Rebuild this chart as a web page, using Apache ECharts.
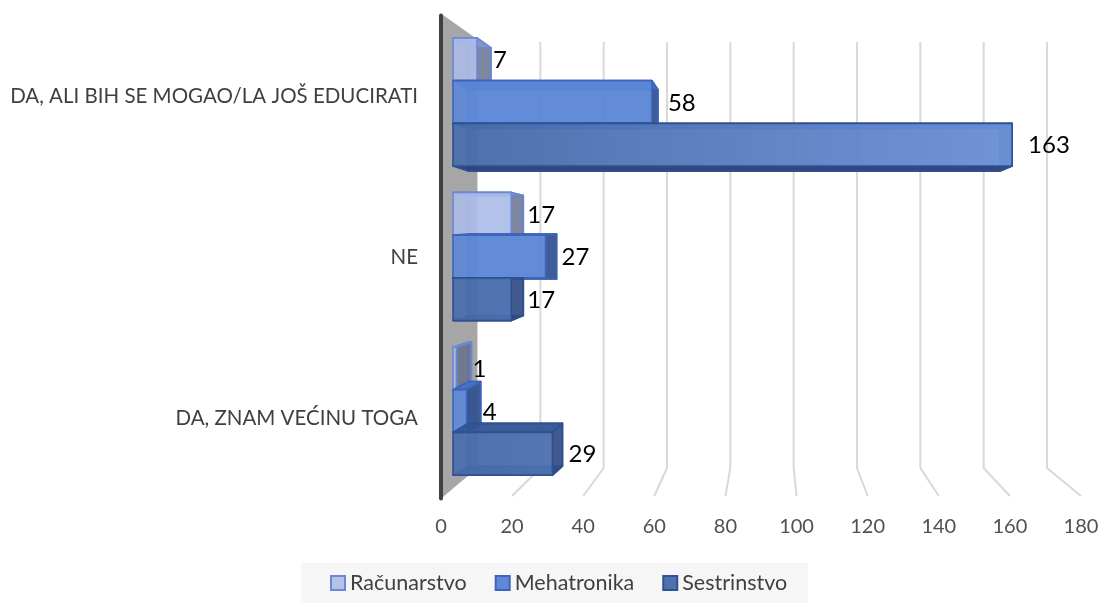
<!DOCTYPE html>
<html>
<head>
<meta charset="utf-8">
<style>html,body{margin:0;padding:0;background:#fff}#c{width:1102px;height:603px}</style>
<script src="https://cdn.jsdelivr.net/npm/echarts@6/dist/echarts.min.js"></script>
</head>
<body>
<div id="c"></div>
<script>
const categories = ['DA, ALI BIH SE MOGAO/LA JOŠ EDUCIRATI', 'NE', 'DA, ZNAM VEĆINU TOGA'];
const seriesNames = ['Računarstvo', 'Mehatronika', 'Sestrinstvo'];
const racunarstvo = [7, 17, 1];
const mehatronika = [58, 27, 4];
const sestrinstvo = [163, 17, 29];
const tickValues = [0, 20, 40, 60, 80, 100, 120, 140, 160, 180];

// Per-bar perspective of the fake 3D look: [right edge shift, top shift, bottom shift]
const depthRacunarstvo = [[14, 10, 0], [12, 3, 0], [15, -5, -8]];
const depthMehatronika = [[6, 9, 0], [11, -1, 1], [14, -8, -8]];
const depthSestrinstvo = [[-12, 5, 5], [12, 0, -5], [10, -9, -9]];
const LEFT_SHIFT = 15;
const FONT = 'Lato, "Open Sans", sans-serif';

const styles = [
  {front: 'rgba(172,188,232,0.88)', back: 'rgba(172,188,232,0.35)', side: 'rgba(100,110,140,0.8)', top: 'rgba(130,150,205,0.85)', bottom: 'rgba(130,150,205,0.85)', edge: '#6c88d4', swatch: '#b4c2e4'},
  {front: 'rgba(92,135,215,0.9)', back: 'rgba(70,110,190,0.5)', side: 'rgba(50,80,140,0.88)', top: 'rgba(68,110,195,0.92)', bottom: 'rgba(55,90,165,0.9)', edge: '#3d64b8', swatch: '#5f88d6'},
  {front: null, back: 'rgba(60,95,165,0.5)', side: 'rgba(50,75,130,0.85)', top: 'rgba(50,85,150,0.92)', bottom: 'rgba(40,65,120,0.95)', edge: '#2f5191', swatch: '#4f72ad'}
];

function frontFill(i) {
  if (styles[i].front) return styles[i].front;
  return new echarts.graphic.LinearGradient(453, 0, 1013, 0, [
    {offset: 0, color: 'rgba(72,108,170,0.92)'},
    {offset: 1, color: 'rgba(108,146,216,0.92)'}
  ], true);
}

function barSeries(name, values, depth, si) {
  const st = styles[si];
  return {
    type: 'custom', name: name, xAxisIndex: 1, yAxisIndex: 1, silent: true,
    itemStyle: {color: st.swatch, borderColor: st.edge, borderWidth: 2},
    encode: {x: 1, y: 0},
    data: values.map((v, i) => [i, v]),
    renderItem: function (params, api) {
      const cat = api.value(0), val = api.value(1);
      const band = api.size([0, 1])[1];
      const h = band * 0.2765;
      const zero = api.coord([0, cat]);
      const end = api.coord([val, cat]);
      const t = zero[1] - 1.5 * h + si * h, b = t + h;
      const l = zero[0], r = end[0];
      const d = depth[params.dataIndex];
      const bl = l + LEFT_SHIFT, br = r + d[0], bt = t + d[1], bb = b + d[2];
      const line = {stroke: st.edge, lineWidth: 1.6, lineJoin: 'round'};
      const poly = (pts, fill) => ({type: 'polygon', shape: {points: pts}, style: Object.assign({fill: fill}, line)});
      return {type: 'group', children: [
        poly([[bl, bt], [br, bt], [br, bb], [bl, bb]], st.back),
        poly([[l, b], [r, b], [br, bb], [bl, bb]], st.bottom),
        poly([[r, t], [br, bt], [br, bb], [r, b]], st.side),
        poly([[l, t], [r, t], [br, bt], [bl, bt]], st.top),
        poly([[l, t], [r, t], [r, b], [l, b]], frontFill(si)),
        {type: 'text', style: {text: String(val), x: r + 16, y: (t + b) / 2 + 1, fill: '#000', font: '24px ' + FONT, align: 'left', verticalAlign: 'middle'}}
      ]};
    }
  };
}

const wallSeries = {
  type: 'custom', xAxisIndex: 0, yAxisIndex: 0, silent: true, z: 1,
  data: tickValues.map(v => [v]),
  encode: {x: 0},
  renderItem: function (params, api) {
    const p = api.coord([api.value(0), 0]);
    const fx = p[0];
    const bx = 477 + (fx - 441) * 570 / 640;
    const kids = [{type: 'polyline', shape: {points: [[bx, 42], [bx, 468], [fx, 496]]},
      style: {fill: 'none', stroke: '#d9d9d9', lineWidth: 2}}];
    if (params.dataIndex === 0) {
      kids.push({type: 'polygon', shape: {points: [[443, 15], [477, 39], [477, 468], [443, 497]]},
        style: {fill: '#a6a6a6'}});
    }
    return {type: 'group', children: kids};
  }
};

const option = {
  animation: false,
  backgroundColor: '#fff',
  textStyle: {fontFamily: FONT},
  grid: [
    {left: 441, width: 640, top: 15.5, height: 483},
    {left: 453, width: 617.4, top: 24.75, height: 463.5}
  ],
  xAxis: [
    {gridIndex: 0, type: 'value', min: 0, max: 180, interval: 20,
      axisLine: {show: false}, axisTick: {show: false}, splitLine: {show: false},
      axisLabel: {color: '#505050', fontSize: 20, fontFamily: FONT, margin: 18}},
    {gridIndex: 1, type: 'value', min: 0, max: 180, show: false, splitLine: {show: false}}
  ],
  yAxis: [
    {gridIndex: 0, type: 'category', inverse: true, data: categories, z: 5,
      axisLine: {show: true, lineStyle: {color: '#404040', width: 4}}, axisTick: {show: false},
      axisLabel: {color: '#404040', fontSize: 20.5, fontFamily: FONT, margin: 23}},
    {gridIndex: 1, type: 'category', inverse: true, data: categories, show: false}
  ],
  legend: {
    data: seriesNames, left: 301, top: 563, orient: 'horizontal',
    padding: [9, 21, 9, 29], itemGap: 28, itemWidth: 14, itemHeight: 14, icon: 'rect',
    backgroundColor: '#f6f6f6', selectedMode: false,
    textStyle: {color: '#404040', fontSize: 21.5, fontFamily: FONT}
  },
  series: [
    wallSeries,
    barSeries(seriesNames[0], racunarstvo, depthRacunarstvo, 0),
    barSeries(seriesNames[1], mehatronika, depthMehatronika, 1),
    barSeries(seriesNames[2], sestrinstvo, depthSestrinstvo, 2)
  ]
};
echarts.init(document.getElementById('c'), null, {renderer: 'canvas'}).setOption(option);
</script>
</body>
</html>
